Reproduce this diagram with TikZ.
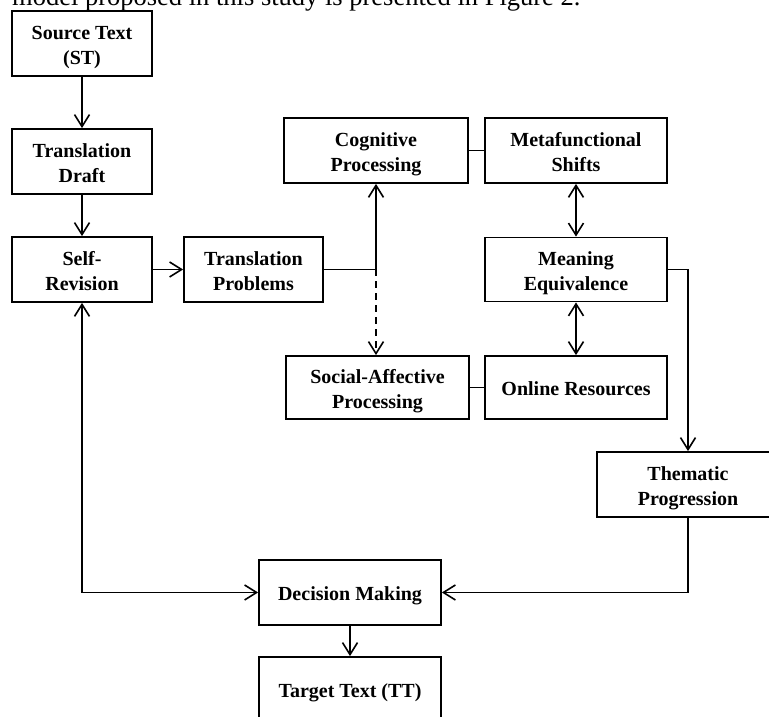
\documentclass[tikz,border=0pt]{standalone}
\usepackage{fontspec}
\setmainfont{Liberation Serif}
\usetikzlibrary{arrows.meta}
\newcommand{\fl}{\rule{0pt}{23pt}}
\newcommand{\lst}{\rule[-6pt]{0pt}{6pt}}
\tikzset{
  box/.style={draw, line width=1.8pt, inner sep=0pt, minimum width=182pt, minimum height=65pt,
    align=center, font=\bfseries\fontsize{20}{25}\selectfont},
  conn/.style={line width=1.8pt},
  tip/.tip={Straight Barb[length=12pt,width=15pt,line width=1.6pt]},
  arr/.style={conn, -tip},
  arrboth/.style={conn, tip-tip},
  dashline/.style={dash pattern=on 7pt off 5pt}
}
\begin{document}
\begin{tikzpicture}[x=1pt,y=1pt]
\useasboundingbox (0,0) rectangle (769,717);
\clip (0,0) rectangle (769,717);
\fill[white] (0,0) rectangle (769,717);
\node[anchor=base west, inner sep=0pt, font=\fontsize{26.5}{30}\selectfont] (cap) at (12,711) {model proposed in this study is presented in Figure 2.};

\node[box, minimum width=140pt] (ST) at (82,673.5) {\fl Source Text\\(ST)\lst};
\node[box, minimum width=140pt] (TD) at (82,555.5) {\fl Translation\\Draft\lst};
\node[box, minimum width=140pt] (SR) at (82,447.5) {\fl Self-\\Revision\lst};
\node[box, minimum width=139pt] (TP) at (253.5,447.5) {\fl Translation\\Problems\lst};
\node[box, minimum width=184pt] (CP) at (376,566.5) {\fl Cognitive\\Processing\lst};
\node[box] (MS) at (576,566.5) {\fl Metafunctional\\Shifts\lst};
\node[box, minimum height=64pt] (ME) at (576,447.5) {\fl Meaning\\Equivalence\lst};
\node[box, minimum width=183pt, minimum height=63pt] (SAP) at (377.5,329.5) {\fl Social-Affective\\Processing\lst};
\node[box, minimum height=63pt] (OR) at (576,329.5) {\fl Online Resources\lst};
\node[box] (TG) at (688,232.5) {\fl Thematic\\Progression\lst};
\node[box] (DM) at (350,124.5) {\fl Decision Making\lst};
\node[box] (TT) at (350,27.5) {\fl Target Text (TT)\lst};

\coordinate (j) at (TP.east -| CP.south);
\draw[arr] (ST) -- (TD);
\draw[arr] (TD) -- (SR);
\draw[arr] (SR) -- (TP);
\draw[conn] (TP.east) -- (j);
\draw[arr] (j) -- (CP.south);
\draw[arr, dashline] (j) -- (j |- SAP.north);
\draw[conn] (CP) -- (MS);
\draw[arrboth] (MS) -- (ME);
\draw[arrboth] (ME) -- (OR);
\draw[conn] (SAP) -- (OR);
\draw[arr] (ME.east) -| (TG.north);
\draw[arr] (TG.south) |- (DM.east);
\draw[arrboth] (SR.south) |- (DM.west);
\draw[arr] (DM) -- (TT);
\end{tikzpicture}
\end{document}
